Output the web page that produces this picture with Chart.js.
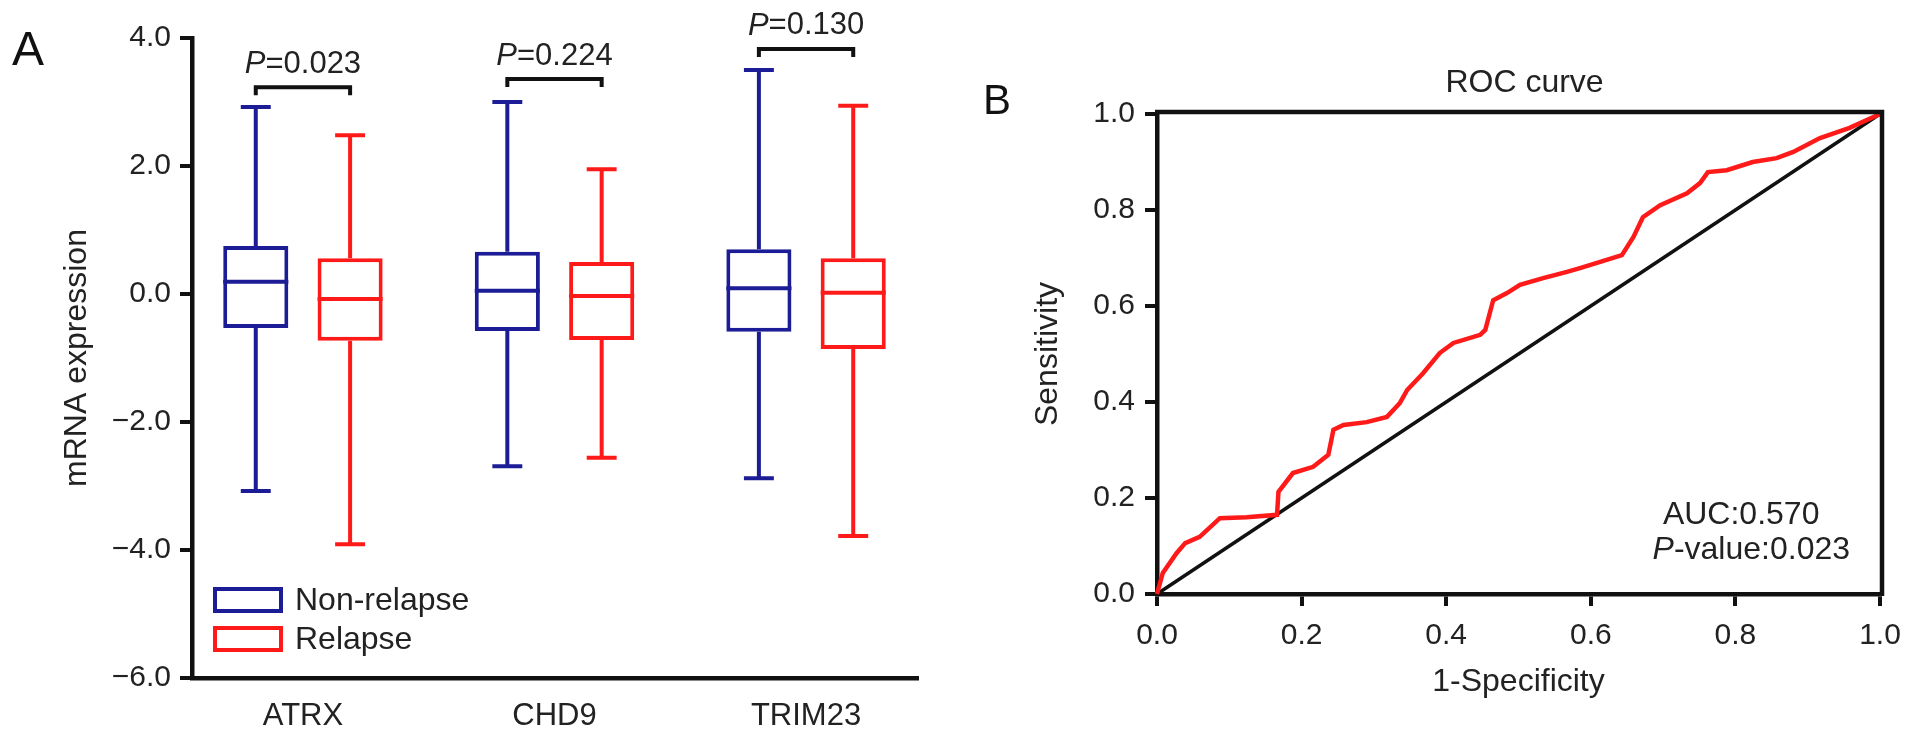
<!DOCTYPE html>
<html>
<head>
<meta charset="utf-8">
<script src="https://cdn.jsdelivr.net/npm/chart.js@4.4.1/dist/chart.umd.min.js"></script>
<style>
    html, body { margin: 0; padding: 0; background: #fff; overflow: hidden; }
    #boxChart { position: absolute; left: 0; top: 0; }
    #rocChart { position: absolute; left: 960px; top: 0; }
</style>
</head>
<body>
<canvas id="boxChart" width="960" height="743"></canvas>
<canvas id="rocChart" width="953" height="743"></canvas>
<script>
// ---- panel A data (box plots) ----
var genes = ['ATRX', 'CHD9', 'TRIM23']
var nonRelapseMin = [-3.08, -2.69, -2.88]
var nonRelapseQ1 = [-0.53, -0.58, -0.59]
var nonRelapseMedian = [0.19, 0.05, 0.09]
var nonRelapseQ3 = [0.75, 0.66, 0.70]
var nonRelapseMax = [2.92, 3.00, 3.50]
var relapseMin = [-3.91, -2.56, -3.78]
var relapseQ1 = [-0.73, -0.72, -0.86]
var relapseMedian = [-0.08, -0.03, 0.02]
var relapseQ3 = [0.56, 0.50, 0.56]
var relapseMax = [2.48, 1.95, 2.94]
var pValues = ['0.023', '0.224', '0.130']
var bracketLevel = [3.23, 3.36, 3.83]
var expressionTicks = [-6, -4, -2, 0, 2, 4]

// ---- panel B data (ROC curve) ----
var rocFpr = [0, 0.008, 0.027, 0.039, 0.059, 0.087, 0.124, 0.166, 0.168, 0.188, 0.216, 0.237, 0.244, 0.258, 0.29,
    0.318, 0.336, 0.346, 0.368, 0.391, 0.41, 0.447, 0.454, 0.465, 0.484, 0.502, 0.534, 0.567, 0.585, 0.613,
    0.643, 0.659, 0.672, 0.696, 0.733, 0.751, 0.762, 0.788, 0.824, 0.857, 0.88, 0.917, 0.958, 1.0]
var rocTpr = [0, 0.044, 0.085, 0.106, 0.119, 0.158, 0.160, 0.165, 0.213, 0.252, 0.265, 0.29, 0.342, 0.352, 0.358,
    0.369, 0.398, 0.425, 0.46, 0.502, 0.523, 0.54, 0.55, 0.612, 0.627, 0.644, 0.658, 0.671, 0.679, 0.692,
    0.706, 0.744, 0.785, 0.81, 0.835, 0.856, 0.879, 0.883, 0.9, 0.908, 0.921, 0.95, 0.971, 1.0]
var chanceX = [0, 1]
var chanceY = [0, 1]
var aucText = 'AUC:0.570'
var rocPValue = '0.023'

var BLUE = '#1c1c96'
var RED = '#ff1a1a'
var FONT = "'Liberation Sans', Arial, Helvetica, sans-serif"
var TEXT = '#222'

Chart.defaults.font.family = FONT
Chart.defaults.color = TEXT

function fmtTick(v) {
    return Number(v).toFixed(1).replace('-', '\u2212')
}

// P=value text with italic P, centred on x
function drawPText(ctx, x, y, rest, size) {
    ctx.font = 'italic ' + size + 'px ' + FONT
    var w1 = ctx.measureText('P').width
    ctx.font = size + 'px ' + FONT
    var w2 = ctx.measureText(rest).width
    var start = x - (w1 + w2) / 2
    ctx.textAlign = 'left'
    ctx.textBaseline = 'middle'
    ctx.font = 'italic ' + size + 'px ' + FONT
    ctx.fillText('P', start, y)
    ctx.font = size + 'px ' + FONT
    ctx.fillText(rest, start + w1, y)
}

//-------------
//- BOX PLOT -
//-------------
var whiskerPlugin = {
    id: 'whiskers',
    afterDatasetsDraw: function (chart) {
        var ctx = chart.ctx
        var yScale = chart.scales.y
        var area = chart.chartArea
        var groups = [
            { min: nonRelapseMin, med: nonRelapseMedian, q1: nonRelapseQ1, q3: nonRelapseQ3, max: nonRelapseMax },
            { min: relapseMin, med: relapseMedian, q1: relapseQ1, q3: relapseQ3, max: relapseMax }
        ]
        ctx.save()
        ctx.lineCap = 'butt'
        groups.forEach(function (g, d) {
            var meta = chart.getDatasetMeta(d)
            var color = chart.data.datasets[d].borderColor
            ctx.strokeStyle = color
            ctx.lineWidth = 4
            meta.data.forEach(function (bar, i) {
                var x = bar.x
                var half = bar.width / 2
                var cap = bar.width * 0.23
                var yMed = yScale.getPixelForValue(g.med[i])
                var yQ1 = yScale.getPixelForValue(g.q1[i])
                var yQ3 = yScale.getPixelForValue(g.q3[i])
                var yMin = yScale.getPixelForValue(g.min[i])
                var yMax = yScale.getPixelForValue(g.max[i])
                ctx.beginPath()
                ctx.moveTo(x - half, yMed); ctx.lineTo(x + half, yMed)
                ctx.moveTo(x, yQ3); ctx.lineTo(x, yMax)
                ctx.moveTo(x - cap, yMax); ctx.lineTo(x + cap, yMax)
                ctx.moveTo(x, yQ1); ctx.lineTo(x, yMin)
                ctx.moveTo(x - cap, yMin); ctx.lineTo(x + cap, yMin)
                ctx.stroke()
            })
        })

        // significance brackets
        var m0 = chart.getDatasetMeta(0)
        var m1 = chart.getDatasetMeta(1)
        ctx.strokeStyle = '#111'
        ctx.lineWidth = 4
        ctx.fillStyle = TEXT
        genes.forEach(function (g, i) {
            var x0 = m0.data[i].x
            var x1 = m1.data[i].x
            var yb = yScale.getPixelForValue(bracketLevel[i])
            ctx.beginPath()
            ctx.moveTo(x0, yb + 8); ctx.lineTo(x0, yb); ctx.lineTo(x1, yb); ctx.lineTo(x1, yb + 8)
            ctx.stroke()
            drawPText(ctx, (x0 + x1) / 2, yb - 23, '=' + pValues[i], 31)
        })

        // legend inside the plot, bottom-left
        chart.data.datasets.forEach(function (ds, d) {
            var cy = area.bottom - 78 + d * 39
            var bx = area.left + 21
            ctx.strokeStyle = ds.borderColor
            ctx.lineWidth = 4
            ctx.strokeRect(bx + 2, cy - 11, 66, 22)
            ctx.fillStyle = TEXT
            ctx.font = '32px ' + FONT
            ctx.textAlign = 'left'
            ctx.textBaseline = 'middle'
            ctx.fillText(ds.label, bx + 82, cy + 1)
        })

        // panel letter
        ctx.font = '48px ' + FONT
        ctx.fillStyle = '#111'
        ctx.textAlign = 'center'
        ctx.fillText('A', 28, 52)
        ctx.restore()
    }
}

new Chart(document.getElementById('boxChart'), {
    type: 'bar',
    data: {
        datasets: [
            {
                label: 'Non-relapse',
                data: genes.map(function (g, i) { return { x: i + 1, y: [nonRelapseQ1[i], nonRelapseQ3[i]] } }),
                backgroundColor: '#ffffff',
                borderColor: BLUE,
                borderWidth: 4,
                borderSkipped: false,
                categoryPercentage: 0.75,
                barPercentage: 0.69
            },
            {
                label: 'Relapse',
                data: genes.map(function (g, i) { return { x: i + 1, y: [relapseQ1[i], relapseQ3[i]] } }),
                backgroundColor: '#ffffff',
                borderColor: RED,
                borderWidth: 4,
                borderSkipped: false,
                categoryPercentage: 0.75,
                barPercentage: 0.69
            }
        ]
    },
    options: {
        responsive: false,
        animation: false,
        layout: { padding: { left: 0, top: 38, right: 42, bottom: 0 } },
        plugins: { legend: { display: false }, tooltip: { enabled: false } },
        scales: {
            x: {
                type: 'linear',
                min: 0.559,
                max: 3.445,
                offset: false,
                afterBuildTicks: function (s) { s.ticks = genes.map(function (g, i) { return { value: i + 1 } }) },
                afterFit: function (s) { s.height = 65 },
                ticks: {
                    callback: function (v) { return genes[v - 1] },
                    font: { size: 31 },
                    color: TEXT,
                    padding: 20,
                    maxRotation: 0
                },
                grid: { display: false, drawTicks: false, offset: false },
                border: { display: true, width: 4.5, color: '#111' }
            },
            y: {
                min: -6,
                max: 4,
                afterBuildTicks: function (s) { s.ticks = expressionTicks.map(function (v) { return { value: v } }) },
                afterFit: function (s) { s.width = 192 },
                ticks: { callback: fmtTick, font: { size: 30 }, color: TEXT, padding: 9 },
                grid: { drawOnChartArea: false, tickLength: 12, tickWidth: 4, lineWidth: 4, color: '#111' },
                border: { display: true, width: 4.5, color: '#111' },
                title: { display: true, text: 'mRNA expression', font: { size: 32 }, color: TEXT, padding: { top: 58, bottom: 0 } }
            }
        }
    },
    plugins: [whiskerPlugin]
})

//-------------
//- ROC CURVE -
//-------------
var rocDecor = {
    id: 'rocDecor',
    afterDatasetsDraw: function (chart) {
        var ctx = chart.ctx
        var a = chart.chartArea
        var xs = chart.scales.x
        var ys = chart.scales.y
        ctx.save()
        // top and right frame
        ctx.strokeStyle = '#111'
        ctx.lineWidth = 4.5
        ctx.beginPath()
        ctx.moveTo(a.left - 2, a.top - 2)
        ctx.lineTo(a.right + 2, a.top - 2)
        ctx.lineTo(a.right + 2, a.bottom + 2)
        ctx.stroke()

        ctx.fillStyle = TEXT
        ctx.textAlign = 'center'
        ctx.textBaseline = 'middle'
        ctx.font = '32px ' + FONT
        ctx.fillText('ROC curve', (a.left + a.right) / 2 + 6, a.top - 31)
        ctx.fillText(aucText, xs.getPixelForValue(0.808), ys.getPixelForValue(0.165))
        drawPText(ctx, xs.getPixelForValue(0.822), ys.getPixelForValue(0.092), '-value:' + rocPValue, 32)

        ctx.font = '42px ' + FONT
        ctx.fillStyle = '#111'
        ctx.textAlign = 'center'
        ctx.fillText('B', 37, 102)
        ctx.restore()
    }
}

new Chart(document.getElementById('rocChart'), {
    type: 'scatter',
    data: {
        datasets: [
            {
                label: 'ROC',
                data: rocFpr.map(function (x, i) { return { x: x, y: rocTpr[i] } }),
                showLine: true,
                borderColor: RED,
                borderWidth: 4.5,
                pointRadius: 0,
                clip: 8
            },
            {
                label: 'Reference',
                data: chanceX.map(function (x, i) { return { x: x, y: chanceY[i] } }),
                showLine: true,
                borderColor: '#111',
                borderWidth: 3.5,
                pointRadius: 0,
                clip: 8
            }
        ]
    },
    options: {
        responsive: false,
        animation: false,
        layout: { padding: { left: 0, top: 114, right: 33, bottom: 0 } },
        plugins: { legend: { display: false }, tooltip: { enabled: false } },
        scales: {
            x: {
                type: 'linear',
                min: 0,
                max: 1,
                afterFit: function (s) { s.height = 149 },
                ticks: { stepSize: 0.2, callback: fmtTick, font: { size: 30 }, color: TEXT, padding: 12, maxRotation: 0 },
                grid: { drawOnChartArea: false, tickLength: 12, tickWidth: 4, lineWidth: 4, color: '#111' },
                border: { display: true, width: 4.5, color: '#111' },
                title: { display: true, text: '1-Specificity', font: { size: 32 }, color: TEXT, padding: { top: 0, bottom: 42 } }
            },
            y: {
                type: 'linear',
                min: 0,
                max: 1,
                afterFit: function (s) { s.width = 197 },
                ticks: { stepSize: 0.2, callback: fmtTick, font: { size: 30 }, color: TEXT, padding: 10 },
                grid: { drawOnChartArea: false, tickLength: 12, tickWidth: 4, lineWidth: 4, color: '#111' },
                border: { display: true, width: 4.5, color: '#111' },
                title: { display: true, text: 'Sensitivity', font: { size: 32 }, color: TEXT, padding: { top: 69, bottom: 0 } }
            }
        }
    },
    plugins: [rocDecor]
})
</script>
</body>
</html>
